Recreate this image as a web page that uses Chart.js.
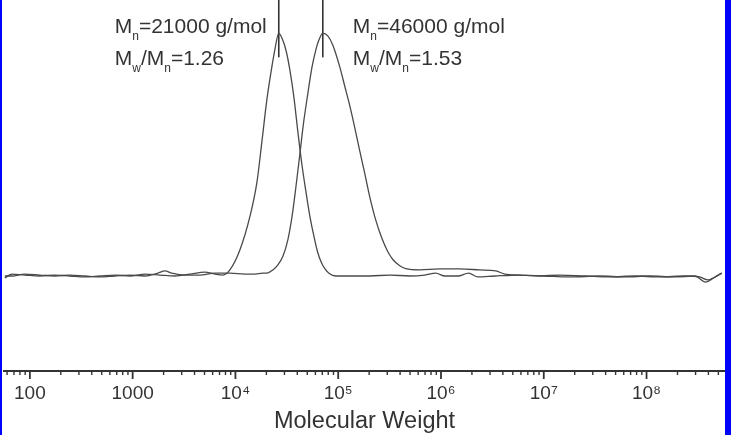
<!DOCTYPE html>
<html>
<head>
<meta charset="utf-8">
<script src="https://cdn.jsdelivr.net/npm/chart.js@4.4.0/dist/chart.umd.min.js"></script>
<style>
  html, body { margin: 0; padding: 0; background: #fff; }
  #wrap { position: relative; width: 732px; height: 435px; overflow: hidden; }
  .edge { position: absolute; top: 0; height: 435px; background: #0000ff; }
</style>
</head>
<body>
<div id="wrap">
  <canvas id="gpc" width="732" height="435"></canvas>
  <div class="edge" style="left:0;width:2px"></div>
  <div class="edge" style="left:725px;width:6px"></div>
</div>
<script>
// sample A (narrow, Mn 21000) - molecular weight vs normalised detector signal
const mwA = [57,67,89,125,175,245,343,480,671,940,1315,1840,2580,3600,5040,6310,7540,8830,11050,13800,16150,18070,20200,22600,24150,26400,28600,31200,34100,37200,40600,44300,48400,52800,57600,62900,68700,75000,81800,94800,129700,203000,318000,497000,695000,889000,1090000,1460000,1860000,2280000,3340000,5840000,10200000,17900000,35100000,61400000,107000000,188000000,294000000,377000000,451000000,539000000];
const intA = [-0.008,0.008,0.004,0,0.004,0,-0.004,0,0.004,0,0.008,0.004,0,0.008,0.016,0.008,0.004,0.025,0.107,0.243,0.383,0.551,0.724,0.860,0.930,1.0,0.975,0.925,0.84,0.73,0.59,0.46,0.35,0.25,0.17,0.10,0.055,0.027,0.01,0,0,0,0.004,0,0.004,0.012,0,0,0.012,-0.004,0,0.004,0,-0.004,0,-0.004,0,-0.004,0,-0.025,-0.008,0.012];

// sample B (broad, Mn 46000)
const mwB = [57,67,89,125,175,245,343,480,671,940,1315,1760,2060,2400,3220,4500,6310,8830,12330,15440,18490,20200,23100,25800,28900,32400,35400,38600,42300,46000,50600,55300,60500,64700,70800,79200,88500,103700,116000,129700,145000,162000,181700,203000,232000,266000,304000,340000,397000,455000,622000,973000,1520000,2380000,3410000,4180000,5840000,9140000,14300000,25000000,43900000,76800000,134000000,236000000,329000000,394000000,461000000,539000000];
const intB = [0,0,0.008,0.004,0,0.004,0,-0.004,0,0.004,0,0.012,0.021,0.012,0.004,0.004,0.012,0.012,0.008,0.008,0.012,0.012,0.025,0.045,0.08,0.15,0.24,0.36,0.50,0.63,0.75,0.855,0.93,0.97,1.0,0.988,0.951,0.86,0.78,0.70,0.61,0.515,0.42,0.325,0.23,0.155,0.10,0.068,0.042,0.03,0.025,0.029,0.029,0.025,0.021,0.008,0.004,0,0.004,0,-0.004,0,-0.004,0,-0.004,-0.016,-0.004,0.012];

// peak markers (Mp of each trace)
const markerMW = [26400, 70800];
const markerLow = 0.9;

// axis
const xMin = 56, xMax = 580000000;
const yMin = -0.391, yMax = 1.136;
const labelValues = [100, 1000, 1e4, 1e5, 1e6, 1e7, 1e8];
const labelTexts = ['100', '1000', '10\u2074', '10\u2075', '10\u2076', '10\u2077', '10\u2078'];

// annotation text: [text, isSubscript]
const notesA = [
  [['M', 0], ['n', 1], ['=21000 g/mol', 0]],
  [['M', 0], ['w', 1], ['/M', 0], ['n', 1], ['=1.26', 0]]
];
const notesB = [
  [['M', 0], ['n', 1], ['=46000 g/mol', 0]],
  [['M', 0], ['w', 1], ['/M', 0], ['n', 1], ['=1.53', 0]]
];

const FONT = '"Liberation Sans", Arial, sans-serif';
const INK = '#333';
const TRACE = '#4a4a4a';

Chart.defaults.font.family = FONT;

const tickValues = [];
for (let e = 1; e <= 8; e++) {
  for (let s = 1; s <= 9; s++) {
    const v = s * Math.pow(10, e);
    if (v >= xMin && v <= xMax) tickValues.push(v);
  }
}

function pts(xs, ys) {
  return xs.map((x, i) => ({ x: x, y: ys[i] }));
}

function markerLine(mw) {
  return {
    data: [{ x: mw, y: markerLow }, { x: mw, y: yMax }],
    borderColor: INK,
    borderWidth: 1.6,
    pointRadius: 0,
    clip: false
  };
}

function richWidth(ctx, parts) {
  let w = 0;
  parts.forEach(p => {
    ctx.font = (p[1] ? '12px ' : '21px ') + FONT;
    w += ctx.measureText(p[0]).width;
  });
  return w;
}

function drawRich(ctx, parts, x, y) {
  parts.forEach(p => {
    ctx.font = (p[1] ? '12px ' : '21px ') + FONT;
    ctx.fillText(p[0], x, p[1] ? y + 7 : y);
    x += ctx.measureText(p[0]).width;
  });
}

const extras = {
  id: 'extras',
  afterDraw(chart) {
    const ctx = chart.ctx;
    const xs = chart.scales.x;
    const ys = chart.scales.y;
    ctx.save();
    // tick marks below the axis line
    ctx.strokeStyle = INK;
    xs.ticks.forEach(t => {
      const px = xs.getPixelForValue(t.value);
      const major = labelValues.includes(t.value);
      ctx.lineWidth = major ? 1.8 : 1.4;
      ctx.beginPath();
      ctx.moveTo(px, xs.top);
      ctx.lineTo(px, xs.top + (major ? 8 : 4));
      ctx.stroke();
    });
    // annotations
    ctx.fillStyle = INK;
    ctx.textBaseline = 'alphabetic';
    ctx.textAlign = 'left';
    const base = ys.getPixelForValue(1.0);
    const leftX = xs.getPixelForValue(markerMW[0]) - 12 - richWidth(ctx, notesA[0]);
    const rightX = xs.getPixelForValue(markerMW[1]) + 30;
    notesA.forEach((ln, i) => drawRich(ctx, ln, leftX, base + i * 32));
    notesB.forEach((ln, i) => drawRich(ctx, ln, rightX, base + i * 32));
    ctx.restore();
  }
};

new Chart(document.getElementById('gpc'), {
  type: 'line',
  data: {
    datasets: [
      { data: pts(mwA, intA), borderColor: TRACE, borderWidth: 1.3, pointRadius: 0, cubicInterpolationMode: 'monotone' },
      { data: pts(mwB, intB), borderColor: TRACE, borderWidth: 1.3, pointRadius: 0, cubicInterpolationMode: 'monotone' },
      markerLine(markerMW[0]),
      markerLine(markerMW[1])
    ]
  },
  options: {
    responsive: false,
    animation: false,
    layout: { padding: { left: 4, right: 7, top: 0, bottom: -1 } },
    plugins: { legend: { display: false }, tooltip: { enabled: false } },
    scales: {
      x: {
        type: 'logarithmic',
        min: xMin,
        max: xMax,
        afterBuildTicks: (scale) => {
          scale.ticks = tickValues.map(v => ({ value: v }));
        },
        grid: { display: false, drawTicks: true, tickLength: 8 },
        border: { display: true, color: INK, width: 2 },
        ticks: {
          autoSkip: false,
          maxRotation: 0,
          padding: 3,
          color: INK,
          font: { size: 19 },
          callback: (v) => {
            const i = labelValues.indexOf(v);
            return i >= 0 ? labelTexts[i] : '';
          }
        },
        title: {
          display: true,
          text: 'Molecular Weight',
          color: INK,
          font: { size: 23.5 },
          padding: { top: 0, bottom: 0 }
        }
      },
      y: {
        display: false,
        min: yMin,
        max: yMax
      }
    }
  },
  plugins: [extras]
});
</script>
</body>
</html>
